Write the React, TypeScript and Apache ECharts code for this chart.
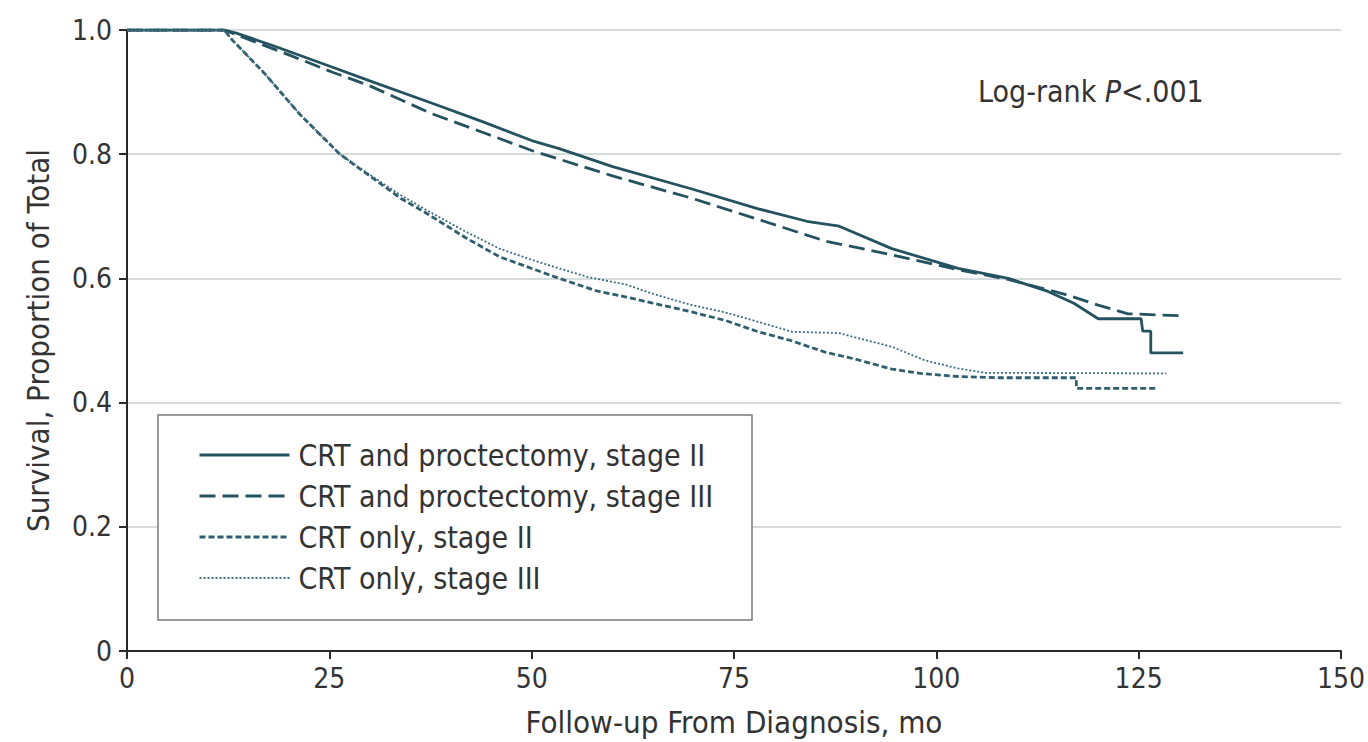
import React, { useEffect, useRef } from "react";
import * as echarts from "echarts";

const seriesNames = [
  "CRT and proctectomy, stage II",
  "CRT and proctectomy, stage III",
  "CRT only, stage II",
  "CRT only, stage III",
];

const xTicks = [0, 25, 50, 75, 100, 125, 150];
const yTicks = [0, 0.2, 0.4, 0.6, 0.8, 1.0];

const proctStageII: [number, number][] = [
  [0, 1], [12, 1], [13.5, 0.995], [18, 0.975], [25.4, 0.94], [30, 0.918], [37.7, 0.882],
  [44, 0.852], [50, 0.822], [53.4, 0.809], [60, 0.78], [69.8, 0.744], [78, 0.712],
  [84, 0.692], [88, 0.684], [94.5, 0.648], [102.7, 0.616], [108.9, 0.6], [113.8, 0.579],
  [117, 0.56], [120, 0.535], [125.3, 0.535], [125.5, 0.515], [126.5, 0.515], [126.5, 0.48],
  [130.5, 0.48],
];

const proctStageIII: [number, number][] = [
  [0, 1], [12, 1], [14, 0.99], [20, 0.96], [25.4, 0.932], [30, 0.91], [37.7, 0.865],
  [44, 0.835], [50, 0.806], [53.4, 0.792], [60, 0.765], [69.8, 0.729], [78, 0.695],
  [86.3, 0.66], [94.5, 0.638], [102.7, 0.614], [109, 0.598], [116, 0.574], [120, 0.557],
  [123.7, 0.543], [130, 0.54],
];

const crtOnlyStageII: [number, number][] = [
  [0, 1], [12, 1], [13, 0.984], [17, 0.93], [21.3, 0.865], [26.3, 0.8], [30, 0.765],
  [33.7, 0.73], [37, 0.705], [41.9, 0.665], [46, 0.635], [50, 0.616], [53.4, 0.6],
  [58, 0.58], [61.7, 0.57], [65, 0.56], [69.8, 0.546], [74, 0.532], [78, 0.514],
  [82, 0.5], [86.3, 0.481], [90, 0.47], [94.5, 0.454], [98, 0.447], [102.7, 0.442],
  [108, 0.44], [117.3, 0.44], [117.3, 0.423], [127.2, 0.423],
];

const crtOnlyStageIII: [number, number][] = [
  [0, 1], [12, 1], [13, 0.984], [17, 0.93], [21.3, 0.865], [26.3, 0.8], [30, 0.767],
  [33.7, 0.735], [37, 0.71], [41.9, 0.675], [46, 0.648], [50, 0.63], [53.4, 0.616],
  [57, 0.602], [61.7, 0.59], [65, 0.575], [69.8, 0.557], [74, 0.545], [78, 0.53],
  [82.2, 0.514], [88, 0.512], [90, 0.505], [94.5, 0.49], [98.6, 0.468], [102.7, 0.455],
  [106, 0.448], [128.4, 0.447],
];

const curveColor = "#24525e";
const textColor = "#333333";
const fontFamily = "'DejaVu Sans Condensed', 'Liberation Sans Narrow', 'Noto Sans', sans-serif";

export default function App() {
  const ref = useRef<HTMLDivElement>(null);

  useEffect(() => {
    if (!ref.current) return;
    const chart = echarts.init(ref.current, null, { renderer: "svg" });
    const data = [proctStageII, proctStageIII, crtOnlyStageII, crtOnlyStageIII];
    const styles = [
      { type: "solid", width: 2.8, color: curveColor },
      { type: [16, 7], width: 2.8, color: curveColor },
      { type: [6, 3], width: 2.8, color: "#2f5f6c" },
      { type: [2, 2], width: 1.8, color: "#3d6b78" },
    ];
    chart.setOption({
      animation: false,
      textStyle: { fontFamily },
      grid: { left: 127, right: 25, top: 30, bottom: 88, containLabel: false },
      xAxis: {
        type: "value",
        min: 0,
        max: 150,
        interval: 25,
        name: "Follow-up From Diagnosis, mo",
        nameLocation: "middle",
        nameGap: 55,
        nameTextStyle: { fontSize: 31, color: textColor, fontFamily },
        axisLine: { show: true, onZero: false, lineStyle: { color: "#2a2a2a", width: 2 } },
        axisTick: { show: true, length: 8, lineStyle: { color: "#2a2a2a", width: 2 } },
        axisLabel: { fontSize: 28, color: textColor, margin: 13, fontFamily },
        splitLine: { show: false },
      },
      yAxis: {
        type: "value",
        min: 0,
        max: 1,
        interval: 0.2,
        name: "Survival, Proportion of Total",
        nameLocation: "middle",
        nameGap: 74,
        nameRotate: 90,
        nameTextStyle: { fontSize: 31, color: textColor, fontFamily },
        axisLine: { show: true, lineStyle: { color: "#2a2a2a", width: 2 } },
        axisTick: { show: true, length: 8, lineStyle: { color: "#2a2a2a", width: 2 } },
        axisLabel: {
          fontSize: 28,
          color: textColor,
          margin: 15,
          fontFamily,
          formatter: (v: number) => (v === 0 ? "0" : v.toFixed(1)),
        },
        splitLine: { show: true, lineStyle: { color: "#c9cfd2", width: 1.5 } },
      },
      legend: {
        show: true,
        orient: "vertical",
        left: 193,
        top: 435,
        z: 20,
        itemWidth: 90,
        itemHeight: 30,
        itemGap: 11,
        data: seriesNames.map((n, i) => ({
          name: n,
          lineStyle: { width: i === 3 ? 2 : 3, type: styles[i].type, color: styles[i].color },
        })),
        itemStyle: { opacity: 0 },
        textStyle: { fontSize: 30, color: textColor, fontFamily, padding: [0, 0, 0, 4] },
      },
      graphic: [
        {
          type: "rect",
          shape: { x: 158, y: 415, width: 594, height: 205 },
          style: { fill: "#ffffff", stroke: "#7a7a7a", lineWidth: 1.5 },
          z: 1,
        },
        {
          type: "text",
          left: 978,
          top: 76,
          z: 10,
          style: {
            text: "{a|Log-rank }{i|P}{a|<.001}",
            rich: {
              a: { fontSize: 30, fill: textColor, fontFamily },
              i: { fontSize: 30, fill: textColor, fontFamily, fontStyle: "italic" },
            },
          },
        },
      ],
      series: data.map((d, i) => ({
        name: seriesNames[i],
        type: "line",
        data: d,
        showSymbol: false,
        symbol: "none",
        lineStyle: styles[i],
        itemStyle: { color: styles[i].color },
        z: 3,
      })),
    });
    return () => chart.dispose();
  }, []);

  return (
    <div
      ref={ref}
      style={{ position: "absolute", left: 0, top: 0, width: 1368, height: 742, background: "#fff" }}
    />
  );
}
